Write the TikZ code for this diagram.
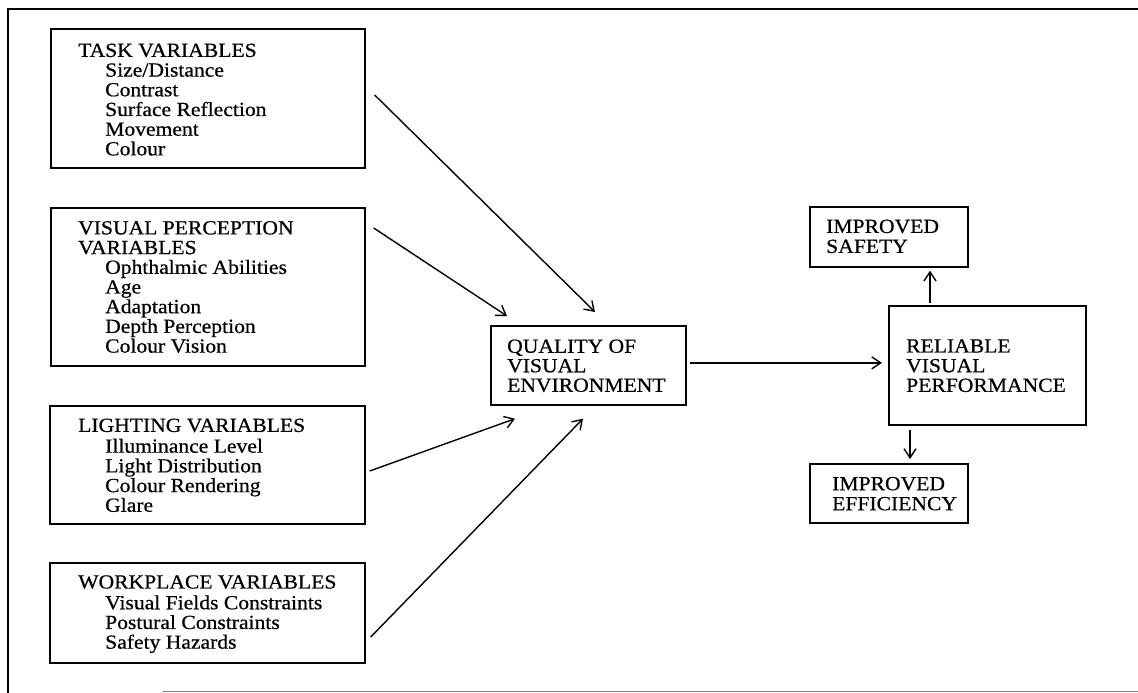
\documentclass[tikz,border=0pt]{standalone}
\usepackage{fontspec}
\setmainfont{Liberation Serif}[FakeStretch=1.08,FakeBold=0.6]
\usetikzlibrary{arrows.meta,calc}
\newcommand\itemind{\hspace*{27pt}}
\begin{document}
\begin{tikzpicture}[x=1pt,y=-1pt,
  box/.style={draw, line width=1.7pt, rectangle, inner sep=0pt, anchor=north west},
  txt/.style={anchor=north west, inner sep=0pt, align=left, font=\fontsize{20}{19.7}\selectfont},
  arr/.style={line width=1.4pt, -{Straight Barb[length=9pt,width=12pt,line width=1.4pt]}},
  frame/.style={line width=1.8pt}
]
\fill[white] (0,0) rectangle (1138,693);
\useasboundingbox (0,0) rectangle (1138,693);
% frame
\draw[frame] (8,693) -- (8,9) -- (1138,9);
\draw[line width=1pt, black!50] (163,691) -- (1138,691);

% left boxes
\node[box, minimum width=314pt, minimum height=139pt] (task) at (50,28) {};
\node[txt] (tasktxt) at (78,42.9) {\strut TASK VARIABLES\\ \itemind Size/Distance\\ \itemind Contrast\\ \itemind Surface Reflection\\ \itemind Movement\\ \itemind Colour};

\node[box, minimum width=314pt, minimum height=158pt] (vp) at (50,207) {};
\node[txt] (vptxt) at (78,220.4) {\strut VISUAL PERCEPTION\\ VARIABLES\\ \itemind Ophthalmic Abilities\\ \itemind Age\\ \itemind Adaptation\\ \itemind Depth Perception\\ \itemind Colour Vision};

\node[box, minimum width=315pt, minimum height=118pt] (light) at (49,405) {};
\node[txt] (lighttxt) at (78,417.9) {\strut LIGHTING VARIABLES\\ \itemind Illuminance Level\\ \itemind Light Distribution\\ \itemind Colour Rendering\\ \itemind Glare};

\node[box, minimum width=315pt, minimum height=100pt] (work) at (49,562) {};
\node[txt] (worktxt) at (78,574.5) {\strut WORKPLACE VARIABLES\\ \itemind Visual Fields Constraints\\ \itemind Postural Constraints\\ \itemind Safety Hazards};

% centre box
\node[box, minimum width=195pt, minimum height=79pt] (quality) at (490,325) {};
\node[txt, font=\fontsize{20}{19.5}\selectfont] (qualitytxt) at (507,338.9) {\strut QUALITY OF\\ VISUAL\\ ENVIRONMENT};

% right boxes
\node[box, minimum width=197pt, minimum height=119pt] (rel) at (888,305) {};
\node[txt] (reltxt) at (906,338.5) {\strut RELIABLE\\ VISUAL\\ PERFORMANCE};

\node[box, minimum width=158pt, minimum height=60pt] (safe) at (809,206) {};
\node[txt, font=\fontsize{20}{20}\selectfont] (safetxt) at (826,218.7) {\strut IMPROVED\\ SAFETY};

\node[box, minimum width=158pt, minimum height=59pt] (eff) at (809,463) {};
\node[txt, font=\fontsize{20}{20}\selectfont] (efftxt) at (832,476) {\strut IMPROVED\\ EFFICIENCY};

% connectors
\draw[arr] ([shift={(9,67)}]task.north east) -- ([shift={(105,-13)}]quality.north west);
\draw[arr] ([shift={(8,21)}]vp.north east) -- ([shift={(17,-9)}]quality.north west);
\draw[arr] ([shift={(4,66)}]light.north east) -- ([shift={(25,13)}]quality.south west);
\draw[arr] ([shift={(5,75)}]work.north east) -- ([shift={(93,13)}]quality.south west);
\draw[arr] ([shift={(3,-2.5)}]quality.east) -- ([shift={(-6,-2.5)}]rel.west);
\draw[arr] ([shift={(42,-2)}]rel.north west) -- ([shift={(121,3)}]safe.south west);
\draw[arr] ([shift={(22,4)}]rel.south west) -- ([shift={(101,-4)}]eff.north west);
\end{tikzpicture}
\end{document}
